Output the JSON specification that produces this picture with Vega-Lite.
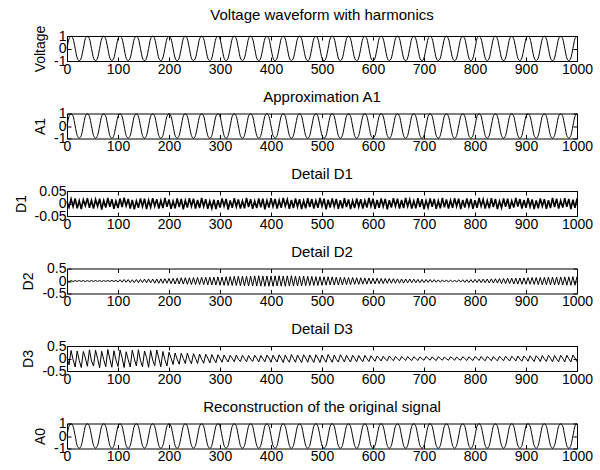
{
"$schema": "https://vega.github.io/schema/vega-lite/v6.json",
"padding": {"left": 13, "top": 7, "right": 2, "bottom": 2},
"background": "white",
"data": {"values": [
{"x":0,"v":0,"a1":0.01,"a0":0.02,"d1":0.008,"d2":0.01,"d3":0.05},
{"x":4,"v":0.78,"a1":0.77,"a0":0.79,"d1":-0.015,"d2":-0.02,"d3":-0.25},
{"x":8,"v":0.98,"a1":0.97,"a0":0.98,"d1":0.018,"d2":0.015,"d3":0.32},
{"x":12,"v":0.77,"a1":0.78,"a0":0.76,"d1":-0.012,"d2":-0.02,"d3":-0.05},
{"x":16,"v":0.01,"a1":0,"a0":0.02,"d1":0.02,"d2":0.018,"d3":-0.34},
{"x":20,"v":-0.76,"a1":-0.75,"a0":-0.77,"d1":-0.019,"d2":-0.015,"d3":0.3},
{"x":24,"v":-0.98,"a1":-0.97,"a0":-0.98,"d1":0.011,"d2":0.02,"d3":-0.08},
{"x":28,"v":-0.75,"a1":-0.76,"a0":-0.76,"d1":-0.022,"d2":-0.018,"d3":-0.36},
{"x":32,"v":0,"a1":0.01,"a0":0,"d1":0.015,"d2":0.02,"d3":0.28},
{"x":36,"v":0.79,"a1":0.78,"a0":0.78,"d1":-0.009,"d2":-0.022,"d3":0.02},
{"x":40,"v":0.97,"a1":0.98,"a0":0.98,"d1":0.021,"d2":0.018,"d3":-0.31},
{"x":44,"v":0.78,"a1":0.77,"a0":0.78,"d1":-0.017,"d2":-0.02,"d3":0.35},
{"x":48,"v":0,"a1":0.01,"a0":0.01,"d1":0.013,"d2":0.02,"d3":-0.1},
{"x":52,"v":-0.77,"a1":-0.76,"a0":-0.75,"d1":-0.02,"d2":-0.017,"d3":-0.3},
{"x":56,"v":-0.98,"a1":-0.98,"a0":-0.97,"d1":0.016,"d2":0.021,"d3":0.33},
{"x":60,"v":-0.76,"a1":-0.75,"a0":-0.76,"d1":-0.011,"d2":-0.019,"d3":0},
{"x":64,"v":0.01,"a1":0,"a0":0.01,"d1":0.019,"d2":0.02,"d3":-0.37},
{"x":68,"v":0.78,"a1":0.79,"a0":0.78,"d1":-0.024,"d2":-0.022,"d3":0.29},
{"x":72,"v":0.98,"a1":0.97,"a0":0.98,"d1":0.012,"d2":0.019,"d3":-0.05},
{"x":76,"v":0.77,"a1":0.78,"a0":0.77,"d1":-0.016,"d2":-0.02,"d3":-0.33},
{"x":80,"v":0,"a1":0.01,"a0":0,"d1":0.022,"d2":0.021,"d3":0.36},
{"x":84,"v":-0.76,"a1":-0.77,"a0":-0.76,"d1":-0.013,"d2":-0.018,"d3":-0.02},
{"x":88,"v":-0.97,"a1":-0.98,"a0":-0.98,"d1":0.017,"d2":0.022,"d3":-0.35},
{"x":92,"v":-0.76,"a1":-0.75,"a0":-0.77,"d1":-0.021,"d2":-0.02,"d3":0.31},
{"x":96,"v":0,"a1":0.01,"a0":0.01,"d1":0.01,"d2":0.025,"d3":-0.06},
{"x":100,"v":0.78,"a1":0.77,"a0":0.78,"d1":-0.018,"d2":-0.04,"d3":-0.32},
{"x":104,"v":0.98,"a1":0.98,"a0":0.97,"d1":0.02,"d2":0.05,"d3":0.34},
{"x":108,"v":0.77,"a1":0.78,"a0":0.77,"d1":-0.014,"d2":-0.045,"d3":0.03},
{"x":112,"v":0.01,"a1":0,"a0":0.01,"d1":0.023,"d2":0.06,"d3":-0.36},
{"x":116,"v":-0.77,"a1":-0.76,"a0":-0.76,"d1":-0.01,"d2":-0.05,"d3":0.27},
{"x":120,"v":-0.98,"a1":-0.97,"a0":-0.98,"d1":0.018,"d2":0.055,"d3":-0.04},
{"x":124,"v":-0.75,"a1":-0.76,"a0":-0.76,"d1":-0.02,"d2":-0.06,"d3":-0.34},
{"x":128,"v":0,"a1":0.01,"a0":0,"d1":0.014,"d2":0.05,"d3":0.33},
{"x":132,"v":0.78,"a1":0.78,"a0":0.79,"d1":-0.023,"d2":-0.065,"d3":-0.01},
{"x":136,"v":0.97,"a1":0.98,"a0":0.98,"d1":0.011,"d2":0.06,"d3":-0.3},
{"x":140,"v":0.78,"a1":0.77,"a0":0.77,"d1":-0.017,"d2":-0.07,"d3":0.35},
{"x":144,"v":0.01,"a1":0.01,"a0":0,"d1":0.02,"d2":0.065,"d3":-0.08},
{"x":148,"v":-0.76,"a1":-0.76,"a0":-0.77,"d1":-0.012,"d2":-0.06,"d3":-0.33},
{"x":152,"v":-0.98,"a1":-0.98,"a0":-0.97,"d1":0.019,"d2":0.075,"d3":0.3},
{"x":156,"v":-0.76,"a1":-0.75,"a0":-0.76,"d1":-0.022,"d2":-0.07,"d3":0.04},
{"x":160,"v":0,"a1":0.01,"a0":0.01,"d1":0.013,"d2":0.08,"d3":-0.35},
{"x":164,"v":0.79,"a1":0.78,"a0":0.78,"d1":-0.015,"d2":-0.075,"d3":0.32},
{"x":168,"v":0.98,"a1":0.97,"a0":0.98,"d1":0.021,"d2":0.08,"d3":-0.06},
{"x":172,"v":0.77,"a1":0.78,"a0":0.77,"d1":-0.011,"d2":-0.085,"d3":-0.29},
{"x":176,"v":0,"a1":0,"a0":0.01,"d1":0.017,"d2":0.08,"d3":0.34},
{"x":180,"v":-0.77,"a1":-0.76,"a0":-0.76,"d1":-0.02,"d2":-0.09,"d3":0.01},
{"x":184,"v":-0.98,"a1":-0.98,"a0":-0.98,"d1":0.012,"d2":0.085,"d3":-0.33},
{"x":188,"v":-0.75,"a1":-0.76,"a0":-0.76,"d1":-0.018,"d2":-0.09,"d3":0.28},
{"x":192,"v":0.01,"a1":0,"a0":0,"d1":0.022,"d2":0.095,"d3":-0.05},
{"x":196,"v":0.78,"a1":0.78,"a0":0.78,"d1":-0.013,"d2":-0.09,"d3":-0.3},
{"x":200,"v":0.97,"a1":0.98,"a0":0.97,"d1":0.016,"d2":0.1,"d3":0.25},
{"x":204,"v":0.78,"a1":0.77,"a0":0.78,"d1":-0.021,"d2":-0.11,"d3":0.02},
{"x":208,"v":0,"a1":0.01,"a0":0.01,"d1":0.01,"d2":0.105,"d3":-0.24},
{"x":212,"v":-0.76,"a1":-0.77,"a0":-0.76,"d1":-0.019,"d2":-0.12,"d3":0.22},
{"x":216,"v":-0.98,"a1":-0.97,"a0":-0.98,"d1":0.02,"d2":0.115,"d3":-0.03},
{"x":220,"v":-0.76,"a1":-0.76,"a0":-0.75,"d1":-0.014,"d2":-0.12,"d3":-0.23},
{"x":224,"v":0,"a1":0.01,"a0":0,"d1":0.018,"d2":0.13,"d3":0.21},
{"x":228,"v":0.78,"a1":0.79,"a0":0.78,"d1":-0.023,"d2":-0.125,"d3":0},
{"x":232,"v":0.98,"a1":0.98,"a0":0.98,"d1":0.012,"d2":0.13,"d3":-0.2},
{"x":236,"v":0.77,"a1":0.77,"a0":0.78,"d1":-0.016,"d2":-0.135,"d3":0.22},
{"x":240,"v":0.01,"a1":0,"a0":0.01,"d1":0.021,"d2":0.13,"d3":-0.04},
{"x":244,"v":-0.77,"a1":-0.76,"a0":-0.76,"d1":-0.011,"d2":-0.14,"d3":-0.21},
{"x":248,"v":-0.97,"a1":-0.98,"a0":-0.97,"d1":0.019,"d2":0.135,"d3":0.19},
{"x":252,"v":-0.76,"a1":-0.75,"a0":-0.76,"d1":-0.02,"d2":-0.14,"d3":0.01},
{"x":256,"v":0,"a1":0.01,"a0":0.01,"d1":0.014,"d2":0.145,"d3":-0.2},
{"x":260,"v":0.78,"a1":0.78,"a0":0.79,"d1":-0.018,"d2":-0.14,"d3":0.18},
{"x":264,"v":0.98,"a1":0.97,"a0":0.98,"d1":0.022,"d2":0.15,"d3":-0.03},
{"x":268,"v":0.78,"a1":0.78,"a0":0.77,"d1":-0.012,"d2":-0.145,"d3":-0.19},
{"x":272,"v":0,"a1":0,"a0":0,"d1":0.017,"d2":0.15,"d3":0.17},
{"x":276,"v":-0.76,"a1":-0.77,"a0":-0.76,"d1":-0.021,"d2":-0.155,"d3":0.02},
{"x":280,"v":-0.98,"a1":-0.98,"a0":-0.98,"d1":0.01,"d2":0.15,"d3":-0.18},
{"x":284,"v":-0.76,"a1":-0.76,"a0":-0.75,"d1":-0.019,"d2":-0.16,"d3":0.16},
{"x":288,"v":0.01,"a1":0,"a0":0.01,"d1":0.015,"d2":0.155,"d3":-0.02},
{"x":292,"v":0.79,"a1":0.78,"a0":0.78,"d1":-0.022,"d2":-0.16,"d3":-0.17},
{"x":296,"v":0.97,"a1":0.98,"a0":0.98,"d1":0.013,"d2":0.165,"d3":0.15},
{"x":300,"v":0.77,"a1":0.77,"a0":0.77,"d1":-0.016,"d2":-0.17,"d3":0},
{"x":304,"v":0,"a1":0.01,"a0":0.01,"d1":0.02,"d2":0.16,"d3":-0.15},
{"x":308,"v":-0.77,"a1":-0.76,"a0":-0.76,"d1":-0.011,"d2":-0.175,"d3":0.14},
{"x":312,"v":-0.98,"a1":-0.98,"a0":-0.97,"d1":0.018,"d2":0.17,"d3":-0.02},
{"x":316,"v":-0.75,"a1":-0.76,"a0":-0.76,"d1":-0.024,"d2":-0.18,"d3":-0.14},
{"x":320,"v":0,"a1":0,"a0":0.01,"d1":0.012,"d2":0.175,"d3":0.13},
{"x":324,"v":0.78,"a1":0.78,"a0":0.78,"d1":-0.017,"d2":-0.18,"d3":0.01},
{"x":328,"v":0.98,"a1":0.98,"a0":0.98,"d1":0.021,"d2":0.185,"d3":-0.13},
{"x":332,"v":0.78,"a1":0.77,"a0":0.78,"d1":-0.013,"d2":-0.18,"d3":0.14},
{"x":336,"v":0.01,"a1":0.01,"a0":0,"d1":0.016,"d2":0.19,"d3":-0.03},
{"x":340,"v":-0.76,"a1":-0.77,"a0":-0.77,"d1":-0.02,"d2":-0.185,"d3":-0.12},
{"x":344,"v":-0.97,"a1":-0.98,"a0":-0.98,"d1":0.011,"d2":0.19,"d3":0.13},
{"x":348,"v":-0.76,"a1":-0.75,"a0":-0.76,"d1":-0.019,"d2":-0.195,"d3":0},
{"x":352,"v":0,"a1":0.01,"a0":0.01,"d1":0.022,"d2":0.19,"d3":-0.13},
{"x":356,"v":0.78,"a1":0.79,"a0":0.78,"d1":-0.014,"d2":-0.2,"d3":0.12},
{"x":360,"v":0.98,"a1":0.97,"a0":0.98,"d1":0.017,"d2":0.195,"d3":-0.02},
{"x":364,"v":0.77,"a1":0.78,"a0":0.77,"d1":-0.021,"d2":-0.2,"d3":-0.12},
{"x":368,"v":0,"a1":0,"a0":0.01,"d1":0.01,"d2":0.205,"d3":0.13},
{"x":372,"v":-0.77,"a1":-0.76,"a0":-0.76,"d1":-0.018,"d2":-0.2,"d3":0.01},
{"x":376,"v":-0.98,"a1":-0.98,"a0":-0.98,"d1":0.02,"d2":0.21,"d3":-0.14},
{"x":380,"v":-0.75,"a1":-0.76,"a0":-0.75,"d1":-0.015,"d2":-0.205,"d3":0.12},
{"x":384,"v":0.01,"a1":0,"a0":0,"d1":0.019,"d2":0.2,"d3":-0.01},
{"x":388,"v":0.78,"a1":0.78,"a0":0.79,"d1":-0.023,"d2":-0.21,"d3":-0.13},
{"x":392,"v":0.97,"a1":0.98,"a0":0.97,"d1":0.012,"d2":0.205,"d3":0.14},
{"x":396,"v":0.78,"a1":0.77,"a0":0.78,"d1":-0.016,"d2":-0.21,"d3":0.02},
{"x":400,"v":0,"a1":0.01,"a0":0.01,"d1":0.021,"d2":0.2,"d3":-0.15},
{"x":404,"v":-0.76,"a1":-0.76,"a0":-0.77,"d1":-0.012,"d2":-0.21,"d3":0.13},
{"x":408,"v":-0.98,"a1":-0.97,"a0":-0.98,"d1":0.018,"d2":0.205,"d3":-0.02},
{"x":412,"v":-0.76,"a1":-0.76,"a0":-0.75,"d1":-0.02,"d2":-0.2,"d3":-0.14},
{"x":416,"v":0,"a1":0,"a0":0.01,"d1":0.013,"d2":0.21,"d3":0.15},
{"x":420,"v":0.79,"a1":0.78,"a0":0.78,"d1":-0.017,"d2":-0.205,"d3":0.01},
{"x":424,"v":0.98,"a1":0.98,"a0":0.98,"d1":0.022,"d2":0.2,"d3":-0.16},
{"x":428,"v":0.77,"a1":0.78,"a0":0.77,"d1":-0.011,"d2":-0.21,"d3":0.14},
{"x":432,"v":0.01,"a1":0.01,"a0":0,"d1":0.016,"d2":0.205,"d3":-0.03},
{"x":436,"v":-0.77,"a1":-0.76,"a0":-0.76,"d1":-0.021,"d2":-0.2,"d3":-0.15},
{"x":440,"v":-0.97,"a1":-0.98,"a0":-0.98,"d1":0.014,"d2":0.21,"d3":0.16},
{"x":444,"v":-0.76,"a1":-0.75,"a0":-0.76,"d1":-0.018,"d2":-0.2,"d3":0},
{"x":448,"v":0,"a1":0.01,"a0":0.01,"d1":0.02,"d2":0.195,"d3":-0.15},
{"x":452,"v":0.78,"a1":0.78,"a0":0.78,"d1":-0.013,"d2":-0.2,"d3":0.14},
{"x":456,"v":0.98,"a1":0.97,"a0":0.97,"d1":0.017,"d2":0.19,"d3":-0.02},
{"x":460,"v":0.78,"a1":0.78,"a0":0.78,"d1":-0.022,"d2":-0.195,"d3":-0.16},
{"x":464,"v":0,"a1":0,"a0":0,"d1":0.011,"d2":0.19,"d3":0.15},
{"x":468,"v":-0.76,"a1":-0.77,"a0":-0.76,"d1":-0.019,"d2":-0.185,"d3":0.02},
{"x":472,"v":-0.98,"a1":-0.98,"a0":-0.98,"d1":0.021,"d2":0.19,"d3":-0.15},
{"x":476,"v":-0.76,"a1":-0.76,"a0":-0.75,"d1":-0.014,"d2":-0.18,"d3":0.14},
{"x":480,"v":0.01,"a1":0,"a0":0.01,"d1":0.018,"d2":0.185,"d3":-0.01},
{"x":484,"v":0.79,"a1":0.78,"a0":0.78,"d1":-0.02,"d2":-0.18,"d3":-0.16},
{"x":488,"v":0.97,"a1":0.98,"a0":0.98,"d1":0.012,"d2":0.175,"d3":0.15},
{"x":492,"v":0.77,"a1":0.77,"a0":0.77,"d1":-0.017,"d2":-0.18,"d3":0.01},
{"x":496,"v":0,"a1":0.01,"a0":0.01,"d1":0.022,"d2":0.17,"d3":-0.16},
{"x":500,"v":-0.77,"a1":-0.76,"a0":-0.76,"d1":-0.011,"d2":-0.175,"d3":0.14},
{"x":504,"v":-0.98,"a1":-0.98,"a0":-0.97,"d1":0.019,"d2":0.17,"d3":-0.02},
{"x":508,"v":-0.75,"a1":-0.76,"a0":-0.76,"d1":-0.023,"d2":-0.165,"d3":-0.15},
{"x":512,"v":0,"a1":0,"a0":0,"d1":0.015,"d2":0.17,"d3":0.16},
{"x":516,"v":0.78,"a1":0.78,"a0":0.79,"d1":-0.016,"d2":-0.16,"d3":0},
{"x":520,"v":0.98,"a1":0.98,"a0":0.98,"d1":0.02,"d2":0.165,"d3":-0.15},
{"x":524,"v":0.78,"a1":0.77,"a0":0.78,"d1":-0.012,"d2":-0.16,"d3":0.14},
{"x":528,"v":0.01,"a1":0.01,"a0":0,"d1":0.018,"d2":0.155,"d3":-0.03},
{"x":532,"v":-0.76,"a1":-0.77,"a0":-0.77,"d1":-0.021,"d2":-0.16,"d3":-0.14},
{"x":536,"v":-0.97,"a1":-0.98,"a0":-0.98,"d1":0.013,"d2":0.15,"d3":0.15},
{"x":540,"v":-0.76,"a1":-0.75,"a0":-0.76,"d1":-0.019,"d2":-0.155,"d3":0.01},
{"x":544,"v":0,"a1":0.01,"a0":0.01,"d1":0.021,"d2":0.15,"d3":-0.14},
{"x":548,"v":0.78,"a1":0.79,"a0":0.78,"d1":-0.014,"d2":-0.145,"d3":0.13},
{"x":552,"v":0.98,"a1":0.97,"a0":0.98,"d1":0.016,"d2":0.14,"d3":-0.02},
{"x":556,"v":0.77,"a1":0.78,"a0":0.77,"d1":-0.022,"d2":-0.145,"d3":-0.14},
{"x":560,"v":0,"a1":0,"a0":0.01,"d1":0.011,"d2":0.14,"d3":0.13},
{"x":564,"v":-0.77,"a1":-0.76,"a0":-0.76,"d1":-0.018,"d2":-0.135,"d3":0.01},
{"x":568,"v":-0.98,"a1":-0.98,"a0":-0.98,"d1":0.02,"d2":0.13,"d3":-0.13},
{"x":572,"v":-0.75,"a1":-0.76,"a0":-0.75,"d1":-0.013,"d2":-0.135,"d3":0.12},
{"x":576,"v":0.01,"a1":0,"a0":0,"d1":0.017,"d2":0.13,"d3":-0.02},
{"x":580,"v":0.78,"a1":0.78,"a0":0.79,"d1":-0.02,"d2":-0.125,"d3":-0.13},
{"x":584,"v":0.97,"a1":0.98,"a0":0.97,"d1":0.012,"d2":0.12,"d3":0.12},
{"x":588,"v":0.78,"a1":0.77,"a0":0.78,"d1":-0.016,"d2":-0.125,"d3":0},
{"x":592,"v":0,"a1":0.01,"a0":0.01,"d1":0.022,"d2":0.12,"d3":-0.12},
{"x":596,"v":-0.76,"a1":-0.76,"a0":-0.77,"d1":-0.011,"d2":-0.115,"d3":0.11},
{"x":600,"v":-0.98,"a1":-0.97,"a0":-0.98,"d1":0.019,"d2":0.11,"d3":-0.01},
{"x":604,"v":-0.76,"a1":-0.76,"a0":-0.75,"d1":-0.021,"d2":-0.115,"d3":-0.11},
{"x":608,"v":0,"a1":0,"a0":0.01,"d1":0.014,"d2":0.11,"d3":0.1},
{"x":612,"v":0.79,"a1":0.78,"a0":0.78,"d1":-0.017,"d2":-0.105,"d3":0.01},
{"x":616,"v":0.98,"a1":0.98,"a0":0.98,"d1":0.02,"d2":0.1,"d3":-0.1},
{"x":620,"v":0.77,"a1":0.78,"a0":0.77,"d1":-0.012,"d2":-0.105,"d3":0.09},
{"x":624,"v":0.01,"a1":0.01,"a0":0,"d1":0.018,"d2":0.1,"d3":-0.02},
{"x":628,"v":-0.77,"a1":-0.76,"a0":-0.76,"d1":-0.023,"d2":-0.095,"d3":-0.09},
{"x":632,"v":-0.97,"a1":-0.98,"a0":-0.98,"d1":0.013,"d2":0.1,"d3":0.1},
{"x":636,"v":-0.76,"a1":-0.75,"a0":-0.76,"d1":-0.016,"d2":-0.09,"d3":0},
{"x":640,"v":0,"a1":0.01,"a0":0.01,"d1":0.021,"d2":0.095,"d3":-0.09},
{"x":644,"v":0.78,"a1":0.78,"a0":0.78,"d1":-0.011,"d2":-0.09,"d3":0.08},
{"x":648,"v":0.98,"a1":0.97,"a0":0.97,"d1":0.019,"d2":0.085,"d3":-0.01},
{"x":652,"v":0.78,"a1":0.78,"a0":0.78,"d1":-0.02,"d2":-0.09,"d3":-0.09},
{"x":656,"v":0,"a1":0,"a0":0,"d1":0.014,"d2":0.08,"d3":0.08},
{"x":660,"v":-0.76,"a1":-0.77,"a0":-0.76,"d1":-0.018,"d2":-0.085,"d3":0.01},
{"x":664,"v":-0.98,"a1":-0.98,"a0":-0.98,"d1":0.022,"d2":0.08,"d3":-0.08},
{"x":668,"v":-0.76,"a1":-0.76,"a0":-0.75,"d1":-0.012,"d2":-0.075,"d3":0.08},
{"x":672,"v":0.01,"a1":0,"a0":0.01,"d1":0.016,"d2":0.08,"d3":-0.02},
{"x":676,"v":0.79,"a1":0.78,"a0":0.78,"d1":-0.02,"d2":-0.07,"d3":-0.08},
{"x":680,"v":0.97,"a1":0.98,"a0":0.98,"d1":0.011,"d2":0.075,"d3":0.07},
{"x":684,"v":0.77,"a1":0.77,"a0":0.77,"d1":-0.019,"d2":-0.07,"d3":0},
{"x":688,"v":0,"a1":0.01,"a0":0.01,"d1":0.021,"d2":0.065,"d3":-0.08},
{"x":692,"v":-0.77,"a1":-0.76,"a0":-0.76,"d1":-0.014,"d2":-0.07,"d3":0.07},
{"x":696,"v":-0.98,"a1":-0.98,"a0":-0.97,"d1":0.017,"d2":0.06,"d3":-0.01},
{"x":700,"v":-0.75,"a1":-0.76,"a0":-0.76,"d1":-0.022,"d2":-0.065,"d3":-0.07},
{"x":704,"v":0,"a1":0,"a0":0,"d1":0.012,"d2":0.06,"d3":0.08},
{"x":708,"v":0.78,"a1":0.78,"a0":0.79,"d1":-0.016,"d2":-0.055,"d3":0.01},
{"x":712,"v":0.98,"a1":0.98,"a0":0.98,"d1":0.02,"d2":0.06,"d3":-0.07},
{"x":716,"v":0.78,"a1":0.77,"a0":0.78,"d1":-0.013,"d2":-0.05,"d3":0.07},
{"x":720,"v":0.01,"a1":0.01,"a0":0,"d1":0.018,"d2":0.055,"d3":-0.02},
{"x":724,"v":-0.76,"a1":-0.77,"a0":-0.77,"d1":-0.021,"d2":-0.05,"d3":-0.08},
{"x":728,"v":-0.97,"a1":-0.98,"a0":-0.98,"d1":0.011,"d2":0.045,"d3":0.07},
{"x":732,"v":-0.76,"a1":-0.75,"a0":-0.76,"d1":-0.019,"d2":-0.05,"d3":0},
{"x":736,"v":0,"a1":0.01,"a0":0.01,"d1":0.022,"d2":0.045,"d3":-0.07},
{"x":740,"v":0.78,"a1":0.79,"a0":0.78,"d1":-0.015,"d2":-0.04,"d3":0.06},
{"x":744,"v":0.98,"a1":0.97,"a0":0.98,"d1":0.016,"d2":0.045,"d3":-0.01},
{"x":748,"v":0.77,"a1":0.78,"a0":0.77,"d1":-0.02,"d2":-0.04,"d3":-0.07},
{"x":752,"v":0,"a1":0,"a0":0.01,"d1":0.013,"d2":0.04,"d3":0.07},
{"x":756,"v":-0.77,"a1":-0.76,"a0":-0.76,"d1":-0.017,"d2":-0.045,"d3":0.01},
{"x":760,"v":-0.98,"a1":-0.98,"a0":-0.98,"d1":0.021,"d2":0.04,"d3":-0.07},
{"x":764,"v":-0.75,"a1":-0.76,"a0":-0.75,"d1":-0.011,"d2":-0.045,"d3":0.06},
{"x":768,"v":0.01,"a1":0,"a0":0,"d1":0.019,"d2":0.05,"d3":-0.02},
{"x":772,"v":0.78,"a1":0.78,"a0":0.79,"d1":-0.022,"d2":-0.045,"d3":-0.07},
{"x":776,"v":0.97,"a1":0.98,"a0":0.97,"d1":0.014,"d2":0.05,"d3":0.07},
{"x":780,"v":0.78,"a1":0.77,"a0":0.78,"d1":-0.016,"d2":-0.055,"d3":0},
{"x":784,"v":0,"a1":0.01,"a0":0.01,"d1":0.02,"d2":0.05,"d3":-0.08},
{"x":788,"v":-0.76,"a1":-0.76,"a0":-0.77,"d1":-0.012,"d2":-0.06,"d3":0.07},
{"x":792,"v":-0.98,"a1":-0.97,"a0":-0.98,"d1":0.018,"d2":0.055,"d3":-0.01},
{"x":796,"v":-0.76,"a1":-0.76,"a0":-0.75,"d1":-0.021,"d2":-0.06,"d3":-0.08},
{"x":800,"v":0,"a1":0,"a0":0.01,"d1":0.013,"d2":0.065,"d3":0.08},
{"x":804,"v":0.79,"a1":0.78,"a0":0.78,"d1":-0.017,"d2":-0.06,"d3":0.01},
{"x":808,"v":0.98,"a1":0.98,"a0":0.98,"d1":0.022,"d2":0.07,"d3":-0.08},
{"x":812,"v":0.77,"a1":0.78,"a0":0.77,"d1":-0.011,"d2":-0.065,"d3":0.08},
{"x":816,"v":0.01,"a1":0.01,"a0":0,"d1":0.016,"d2":0.075,"d3":-0.02},
{"x":820,"v":-0.77,"a1":-0.76,"a0":-0.76,"d1":-0.02,"d2":-0.07,"d3":-0.09},
{"x":824,"v":-0.97,"a1":-0.98,"a0":-0.98,"d1":0.012,"d2":0.08,"d3":0.08},
{"x":828,"v":-0.76,"a1":-0.75,"a0":-0.76,"d1":-0.019,"d2":-0.075,"d3":0.01},
{"x":832,"v":0,"a1":0.01,"a0":0.01,"d1":0.021,"d2":0.085,"d3":-0.09},
{"x":836,"v":0.78,"a1":0.78,"a0":0.78,"d1":-0.014,"d2":-0.08,"d3":0.08},
{"x":840,"v":0.98,"a1":0.97,"a0":0.97,"d1":0.018,"d2":0.09,"d3":-0.02},
{"x":844,"v":0.78,"a1":0.78,"a0":0.78,"d1":-0.022,"d2":-0.085,"d3":-0.09},
{"x":848,"v":0,"a1":0,"a0":0,"d1":0.01,"d2":0.095,"d3":0.09},
{"x":852,"v":-0.76,"a1":-0.77,"a0":-0.76,"d1":-0.017,"d2":-0.1,"d3":0},
{"x":856,"v":-0.98,"a1":-0.98,"a0":-0.98,"d1":0.02,"d2":0.1,"d3":-0.09},
{"x":860,"v":-0.76,"a1":-0.76,"a0":-0.75,"d1":-0.013,"d2":-0.105,"d3":0.09},
{"x":864,"v":0.01,"a1":0,"a0":0.01,"d1":0.019,"d2":0.11,"d3":-0.01},
{"x":868,"v":0.79,"a1":0.78,"a0":0.78,"d1":-0.021,"d2":-0.105,"d3":-0.1},
{"x":872,"v":0.97,"a1":0.98,"a0":0.98,"d1":0.011,"d2":0.115,"d3":0.09},
{"x":876,"v":0.77,"a1":0.77,"a0":0.77,"d1":-0.016,"d2":-0.12,"d3":0.01},
{"x":880,"v":0,"a1":0.01,"a0":0.01,"d1":0.022,"d2":0.115,"d3":-0.1},
{"x":884,"v":-0.77,"a1":-0.76,"a0":-0.76,"d1":-0.012,"d2":-0.125,"d3":0.1},
{"x":888,"v":-0.98,"a1":-0.98,"a0":-0.97,"d1":0.018,"d2":0.12,"d3":-0.02},
{"x":892,"v":-0.75,"a1":-0.76,"a0":-0.76,"d1":-0.02,"d2":-0.13,"d3":-0.11},
{"x":896,"v":0,"a1":0,"a0":0,"d1":0.014,"d2":0.125,"d3":0.1},
{"x":900,"v":0.78,"a1":0.78,"a0":0.79,"d1":-0.017,"d2":-0.13,"d3":0.01},
{"x":904,"v":0.98,"a1":0.98,"a0":0.98,"d1":0.021,"d2":0.135,"d3":-0.11},
{"x":908,"v":0.78,"a1":0.77,"a0":0.78,"d1":-0.013,"d2":-0.13,"d3":0.11},
{"x":912,"v":0.01,"a1":0.01,"a0":0,"d1":0.016,"d2":0.14,"d3":-0.01},
{"x":916,"v":-0.76,"a1":-0.77,"a0":-0.77,"d1":-0.022,"d2":-0.135,"d3":-0.12},
{"x":920,"v":-0.97,"a1":-0.98,"a0":-0.98,"d1":0.012,"d2":0.14,"d3":0.11},
{"x":924,"v":-0.76,"a1":-0.75,"a0":-0.76,"d1":-0.019,"d2":-0.145,"d3":0.02},
{"x":928,"v":0,"a1":0.01,"a0":0.01,"d1":0.02,"d2":0.14,"d3":-0.12},
{"x":932,"v":0.78,"a1":0.79,"a0":0.78,"d1":-0.011,"d2":-0.15,"d3":0.12},
{"x":936,"v":0.98,"a1":0.97,"a0":0.98,"d1":0.017,"d2":0.145,"d3":-0.01},
{"x":940,"v":0.77,"a1":0.78,"a0":0.77,"d1":-0.021,"d2":-0.15,"d3":-0.12},
{"x":944,"v":0,"a1":0,"a0":0.01,"d1":0.013,"d2":0.155,"d3":0.13},
{"x":948,"v":-0.77,"a1":-0.76,"a0":-0.76,"d1":-0.018,"d2":-0.15,"d3":0.01},
{"x":952,"v":-0.98,"a1":-0.98,"a0":-0.98,"d1":0.022,"d2":0.155,"d3":-0.13},
{"x":956,"v":-0.75,"a1":-0.76,"a0":-0.75,"d1":-0.014,"d2":-0.16,"d3":0.12},
{"x":960,"v":0.01,"a1":0,"a0":0,"d1":0.019,"d2":0.155,"d3":-0.02},
{"x":964,"v":0.78,"a1":0.78,"a0":0.79,"d1":-0.02,"d2":-0.16,"d3":-0.13},
{"x":968,"v":0.97,"a1":0.98,"a0":0.97,"d1":0.012,"d2":0.165,"d3":0.13},
{"x":972,"v":0.78,"a1":0.77,"a0":0.78,"d1":-0.016,"d2":-0.16,"d3":0.01},
{"x":976,"v":0,"a1":0.01,"a0":0.01,"d1":0.021,"d2":0.165,"d3":-0.14},
{"x":980,"v":-0.76,"a1":-0.76,"a0":-0.77,"d1":-0.013,"d2":-0.17,"d3":0.13},
{"x":984,"v":-0.98,"a1":-0.97,"a0":-0.98,"d1":0.018,"d2":0.165,"d3":-0.01},
{"x":988,"v":-0.76,"a1":-0.76,"a0":-0.75,"d1":-0.022,"d2":-0.17,"d3":-0.14},
{"x":992,"v":0,"a1":0,"a0":0.01,"d1":0.015,"d2":0.175,"d3":0.14},
{"x":996,"v":0.79,"a1":0.78,"a0":0.78,"d1":-0.017,"d2":-0.17,"d3":0.02},
{"x":1000,"v":0.98,"a1":0.98,"a0":0.98,"d1":0.02,"d2":0.175,"d3":-0.13}
]},
"config": {
  "font": "Liberation Sans",
  "view": {"stroke": "black", "strokeWidth": 1},
  "axis": {"grid": false, "domain": false, "labelColor": "black", "labelFontSize": 14, "labelFont": "Liberation Sans", "tickColor": "black", "tickSize": -4, "labelPadding": 5, "titleFontWeight": "normal", "titleFontSize": 14, "titleFont": "Liberation Sans", "titleColor": "black", "labelOverlap": false, "titlePadding": 6, "labelExpr": "toString(datum.value)"},
  "axisX": {"labelFlush": false, "values": [0,100,200,300,400,500,600,700,800,900,1000], "title": null},
  "title": {"fontSize": 15, "fontWeight": "normal", "color": "black", "font": "Liberation Sans", "anchor": "middle", "offset": 2},
  "concat": {"spacing": 11.5},
  "line": {"color": "black", "strokeWidth": 1}
},
"vconcat": [
 {"title": "Voltage waveform with harmonics", "width": 510, "height": 25,
  "layer": [
   {"mark": {"type": "line", "interpolate": "monotone"},
    "encoding": {"x": {"field": "x", "type": "quantitative", "scale": {"domain": [0, 1000]}},
     "y": {"field": "v", "type": "quantitative", "scale": {"domain": [-1, 1]}, "axis": {"title": "Voltage", "values": [-1, 0, 1]}}}},
   {"mark": {"type": "line", "opacity": 0},
    "encoding": {"x": {"field": "x", "type": "quantitative", "axis": {"orient": "top", "labels": false, "title": null}},
     "y": {"field": "v", "type": "quantitative", "axis": {"orient": "right", "labels": false, "title": null, "values": [-1, 0, 1]}}}}
  ],
  "resolve": {"axis": {"x": "independent", "y": "independent"}}},
 {"title": "Approximation A1", "width": 510, "height": 25,
  "layer": [
   {"mark": {"type": "line", "interpolate": "monotone"},
    "encoding": {"x": {"field": "x", "type": "quantitative", "scale": {"domain": [0, 1000]}},
     "y": {"field": "a1", "type": "quantitative", "scale": {"domain": [-1, 1]}, "axis": {"title": "A1", "values": [-1, 0, 1]}}}},
   {"mark": {"type": "line", "opacity": 0},
    "encoding": {"x": {"field": "x", "type": "quantitative", "axis": {"orient": "top", "labels": false, "title": null}},
     "y": {"field": "a1", "type": "quantitative", "axis": {"orient": "right", "labels": false, "title": null, "values": [-1, 0, 1]}}}}
  ],
  "resolve": {"axis": {"x": "independent", "y": "independent"}}},
 {"title": "Detail D1", "width": 510, "height": 25,
  "layer": [
   {"mark": {"type": "line", "strokeWidth": 1.6},
    "encoding": {"x": {"field": "x", "type": "quantitative", "scale": {"domain": [0, 1000]}},
     "y": {"field": "d1", "type": "quantitative", "scale": {"domain": [-0.05, 0.05]}, "axis": {"title": "D1", "values": [-0.05, 0, 0.05]}}}},
   {"mark": {"type": "line", "opacity": 0},
    "encoding": {"x": {"field": "x", "type": "quantitative", "axis": {"orient": "top", "labels": false, "title": null}},
     "y": {"field": "d1", "type": "quantitative", "axis": {"orient": "right", "labels": false, "title": null, "values": [-0.05, 0, 0.05]}}}}
  ],
  "resolve": {"axis": {"x": "independent", "y": "independent"}}},
 {"title": "Detail D2", "width": 510, "height": 25,
  "layer": [
   {"mark": {"type": "line"},
    "encoding": {"x": {"field": "x", "type": "quantitative", "scale": {"domain": [0, 1000]}},
     "y": {"field": "d2", "type": "quantitative", "scale": {"domain": [-0.5, 0.5]}, "axis": {"title": "D2", "values": [-0.5, 0, 0.5]}}}},
   {"mark": {"type": "line", "opacity": 0},
    "encoding": {"x": {"field": "x", "type": "quantitative", "axis": {"orient": "top", "labels": false, "title": null}},
     "y": {"field": "d2", "type": "quantitative", "axis": {"orient": "right", "labels": false, "title": null, "values": [-0.5, 0, 0.5]}}}}
  ],
  "resolve": {"axis": {"x": "independent", "y": "independent"}}},
 {"title": "Detail D3", "width": 510, "height": 25,
  "layer": [
   {"mark": {"type": "line"},
    "encoding": {"x": {"field": "x", "type": "quantitative", "scale": {"domain": [0, 1000]}},
     "y": {"field": "d3", "type": "quantitative", "scale": {"domain": [-0.5, 0.5]}, "axis": {"title": "D3", "values": [-0.5, 0, 0.5]}}}},
   {"mark": {"type": "line", "opacity": 0},
    "encoding": {"x": {"field": "x", "type": "quantitative", "axis": {"orient": "top", "labels": false, "title": null}},
     "y": {"field": "d3", "type": "quantitative", "axis": {"orient": "right", "labels": false, "title": null, "values": [-0.5, 0, 0.5]}}}}
  ],
  "resolve": {"axis": {"x": "independent", "y": "independent"}}},
 {"title": "Reconstruction of the original signal", "width": 510, "height": 25,
  "layer": [
   {"mark": {"type": "line", "interpolate": "monotone"},
    "encoding": {"x": {"field": "x", "type": "quantitative", "scale": {"domain": [0, 1000]}},
     "y": {"field": "a0", "type": "quantitative", "scale": {"domain": [-1, 1]}, "axis": {"title": "A0", "values": [-1, 0, 1]}}}},
   {"mark": {"type": "line", "opacity": 0},
    "encoding": {"x": {"field": "x", "type": "quantitative", "axis": {"orient": "top", "labels": false, "title": null}},
     "y": {"field": "a0", "type": "quantitative", "axis": {"orient": "right", "labels": false, "title": null, "values": [-1, 0, 1]}}}}
  ],
  "resolve": {"axis": {"x": "independent", "y": "independent"}}}
]
}
